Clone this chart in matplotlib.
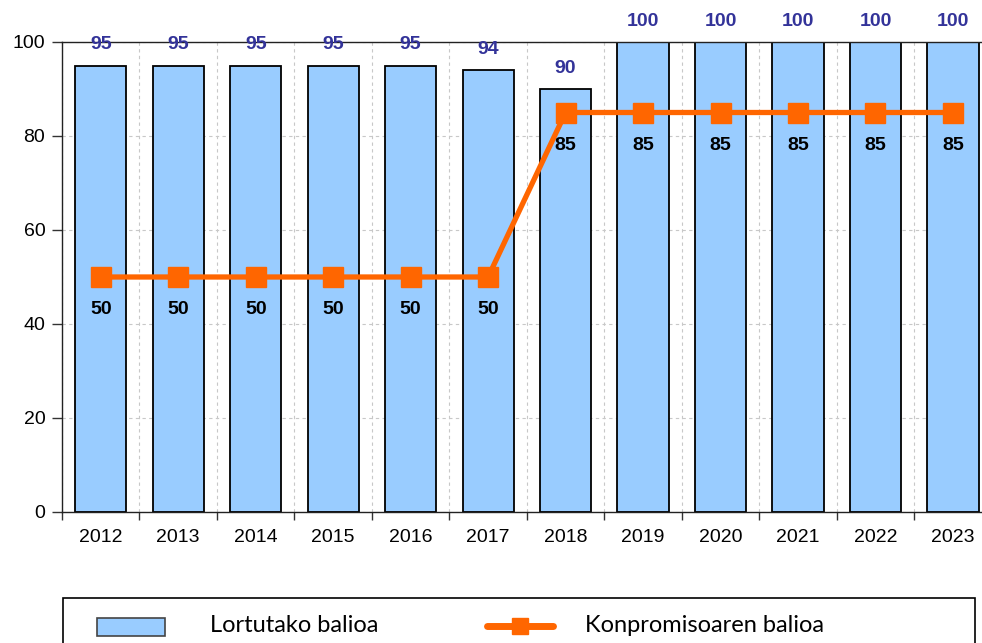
import numpy as np
import matplotlib
matplotlib.use("Agg")
import matplotlib.pyplot as plt
from matplotlib.patches import Rectangle
from matplotlib.lines import Line2D

years = ["2012", "2013", "2014", "2015", "2016", "2017",
         "2018", "2019", "2020", "2021", "2022", "2023"]
lortutako = [95, 95, 95, 95, 95, 94, 90, 100, 100, 100, 100, 100]
konpromiso = [50, 50, 50, 50, 50, 50, 85, 85, 85, 85, 85, 85]

BAR_COLOR = "#99CCFF"
LINE_COLOR = "#FF6600"
LABEL_BLUE = "#333399"

plt.rcParams['font.family'] = ['Liberation Sans', 'DejaVu Sans']

fig = plt.figure(figsize=(9.82, 6.43), dpi=100)
ax = fig.add_axes([62 / 982, 1 - 512 / 643, 929.7 / 982, 470 / 643])

x = np.arange(len(years))
ax.bar(x, lortutako, width=0.66, color=BAR_COLOR, edgecolor="black",
       linewidth=1.3, zorder=2)
ax.plot(x, konpromiso, color=LINE_COLOR, linewidth=3.8, marker="s",
        markersize=15, zorder=3)

for xi, v in zip(x, lortutako):
    ax.annotate(str(v), (xi, v), xytext=(0, 15), textcoords="offset points",
                ha="center", va="center", color=LABEL_BLUE,
                fontsize=14, fontweight="bold")
for xi, v in zip(x, konpromiso):
    ax.annotate(str(v), (xi, v), xytext=(0, -23.5), textcoords="offset points",
                ha="center", va="center", color="black",
                fontsize=14, fontweight="bold", zorder=4)

ax.set_xlim(-0.5, 11.5)
ax.set_ylim(0, 100)
ax.set_yticks([0, 20, 40, 60, 80, 100])
ax.set_xticks(x)
ax.set_xticklabels(years)
ax.set_xticks(np.arange(-0.5, 12, 1), minor=True)
ax.tick_params(axis="x", which="major", length=0, pad=12, labelsize=14)
ax.tick_params(axis="x", which="minor", length=6, width=1, color="#333333")
ax.tick_params(axis="y", length=7, width=1, pad=5, labelsize=14,
               color="#333333")

ax.grid(axis="y", which="major", color="#C8C8C8", linestyle=(0, (3, 3)),
        linewidth=0.8, zorder=0)
ax.grid(axis="x", which="minor", color="#C8C8C8", linestyle=(0, (3, 3)),
        linewidth=0.8, zorder=0)
ax.set_axisbelow(True)

for s in ["left", "bottom", "top"]:
    ax.spines[s].set_color("#222222")
    ax.spines[s].set_linewidth(1.0)
ax.spines["right"].set_visible(False)

# legend box (cut off at the bottom like the original)
fig.patches.append(Rectangle((63 / 982, -0.05), (975 - 63) / 982,
                             0.05 + 1 - 598 / 643, transform=fig.transFigure,
                             facecolor="white", edgecolor="black",
                             linewidth=1.2))
fig.patches.append(Rectangle((97 / 982, 1 - 636 / 643), 68 / 982, 18 / 643,
                             transform=fig.transFigure, facecolor=BAR_COLOR,
                             edgecolor="#444444", linewidth=1.2))
fig.text(210 / 982, 1 - 625 / 643, "Lortutako balioa", fontsize=17,
         family=["Lato", "DejaVu Sans"], va="center", ha="left")
fig.lines.append(Line2D([487 / 982, 553 / 982], [1 - 626 / 643] * 2,
                        transform=fig.transFigure, color=LINE_COLOR,
                        linewidth=5, solid_capstyle="round"))
fig.lines.append(Line2D([520 / 982], [1 - 626 / 643],
                        transform=fig.transFigure, color=LINE_COLOR,
                        marker="s", markersize=11, linestyle="none"))
fig.text(585 / 982, 1 - 625 / 643, "Konpromisoaren balioa", fontsize=17,
         family=["Lato", "DejaVu Sans"], va="center", ha="left")

fig.savefig("out.png", dpi=100)
